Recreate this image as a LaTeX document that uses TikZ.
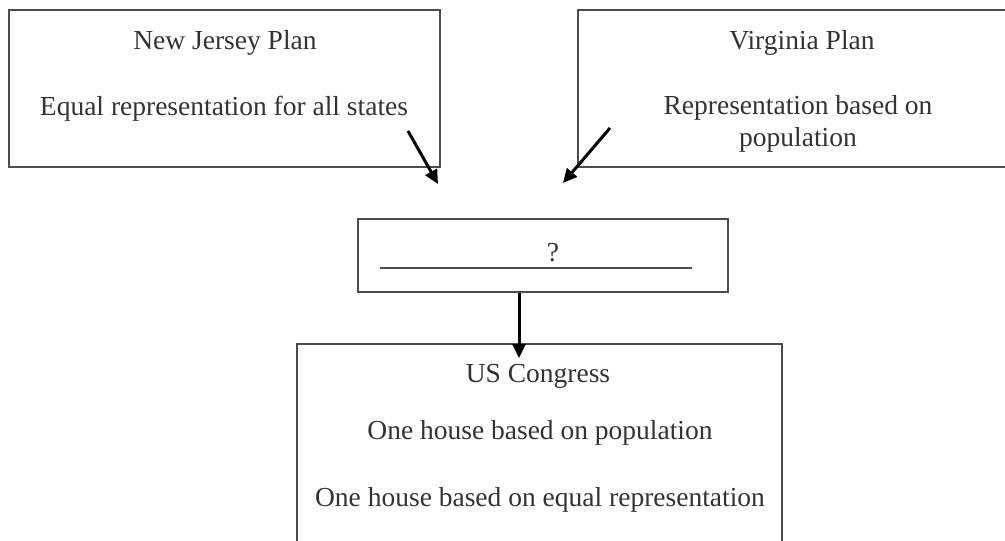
\documentclass[tikz,border=0pt]{standalone}
\usepackage{fontspec}
\setmainfont{Liberation Serif}
\usetikzlibrary{arrows.meta}
\begin{document}
\begin{tikzpicture}[x=1pt,y=-1pt,
  boxst/.style={draw=black!70, line width=2pt, rectangle, inner sep=0pt},
  txt/.style={font=\fontsize{27.5}{32}\selectfont, text=black!80, inner sep=0pt, align=center},
  arr/.style={line width=3pt, -{Triangle[length=14pt,width=13pt]}}]
\useasboundingbox (0,0) rectangle (1005,541);
\fill[white] (0,0) rectangle (1005,541);
% boxes
\node[boxst, minimum width=431pt, minimum height=157pt] (nj) at (224.5,88.5) {};
\node[boxst, minimum width=436pt, minimum height=157pt] (va) at (796,88.5) {};
\node[boxst, minimum width=370pt, minimum height=73pt] (mid) at (543,255.5) {};
\node[boxst, minimum width=485pt, minimum height=216pt] (cong) at (539.5,452) {};
% texts
\node[txt, anchor=base] (njt) at (225,49) {New Jersey Plan};
\node[txt, anchor=base] (njd) at (224,115) {Equal representation for all states};
\node[txt, anchor=base] (vat) at (802,49) {Virginia Plan};
\node[txt, anchor=base] (vad) at (798,146) {Representation based on\\population};
\node[txt, anchor=base] (q) at (553,261) {?};
\node[txt, anchor=base] (ct) at (538,382) {US Congress};
\node[txt, anchor=base] (c1) at (540,439) {One house based on population};
\node[txt, anchor=base] (c2) at (540,506) {One house based on equal representation};
% underline in middle box
\coordinate (ul1) at (380,268);
\coordinate (ul2) at (692,268);
\draw[black!70, line width=1.8pt] (ul1) -- (ul2);
% arrows
\coordinate (a1s) at (408,131);
\coordinate (a1e) at (438,184);
\coordinate (a2s) at (610,128);
\coordinate (a2e) at (563,183);
\coordinate (a3s) at (519,287);
\coordinate (a3e) at (519,358);
\draw[arr] (a1s) -- (a1e);
\draw[arr] (a2s) -- (a2e);
\draw[arr] (mid.south -| a3s) -- (a3e);
\end{tikzpicture}
\end{document}
